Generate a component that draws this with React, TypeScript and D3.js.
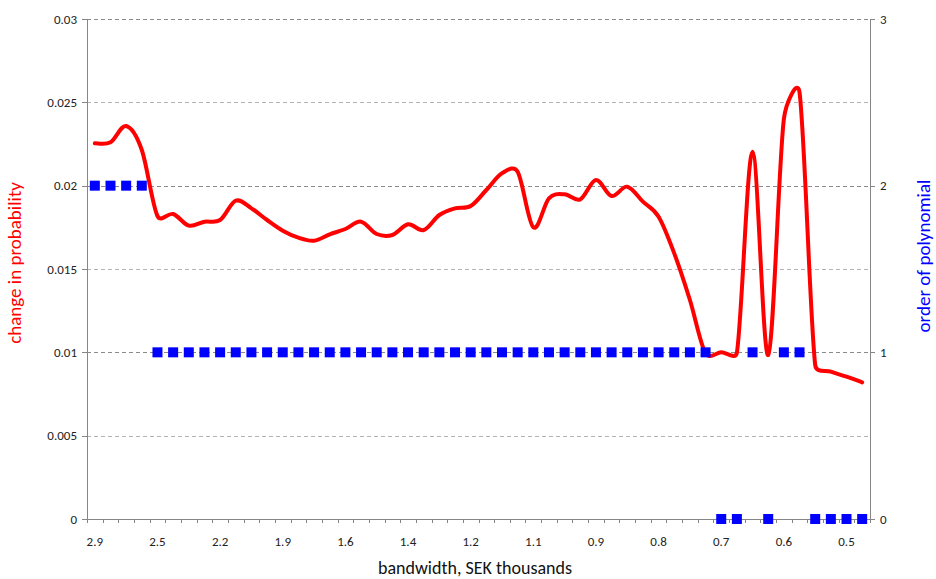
import React, { useEffect, useRef } from 'react';
import * as d3 from 'd3';

// bandwidth (SEK thousands) for each estimation, largest first
const bandwidths = [
  2.9, 2.8, 2.7, 2.6, 2.5, 2.42, 2.35, 2.27, 2.2, 2.12,
  2.05, 1.97, 1.9, 1.82, 1.75, 1.67, 1.6, 1.55, 1.5, 1.45,
  1.4, 1.35, 1.3, 1.25, 1.2, 1.17, 1.15, 1.12, 1.1, 1.05,
  1.0, 0.95, 0.9, 0.87, 0.85, 0.82, 0.8, 0.77, 0.75, 0.72,
  0.7, 0.67, 0.65, 0.62, 0.6, 0.57, 0.55, 0.52, 0.5, 0.47
];

// change in probability (left axis)
const probChange = [
  0.02254, 0.0226, 0.02358, 0.02214, 0.01818, 0.0183, 0.0176, 0.01784, 0.01794, 0.0191,
  0.01864, 0.01794, 0.0173, 0.01688, 0.0167, 0.01708, 0.0174, 0.01784, 0.0171, 0.01704,
  0.01768, 0.01734, 0.01824, 0.01864, 0.01878, 0.01974, 0.02074, 0.02084, 0.0175, 0.01924,
  0.01948, 0.01918, 0.02034, 0.01938, 0.01994, 0.01904, 0.01814, 0.01594, 0.01314, 0.00994,
  0.01, 0.00998, 0.02204, 0.00984, 0.02400, 0.02560, 0.00924, 0.00884, 0.00854, 0.0082
];

// order of polynomial (right axis)
const polyOrder = [
  2, 2, 2, 2, 1, 1, 1, 1, 1, 1,
  1, 1, 1, 1, 1, 1, 1, 1, 1, 1,
  1, 1, 1, 1, 1, 1, 1, 1, 1, 1,
  1, 1, 1, 1, 1, 1, 1, 1, 1, 1,
  0, 0, 1, 0, 1, 1, 0, 0, 0, 0
];

const leftTicks = [0, 0.005, 0.01, 0.015, 0.02, 0.025, 0.03];
const rightTicks = [0, 1, 2, 3];

const WIDTH = 936;
const HEIGHT = 579;
const FONT = 'Carlito, Calibri, Lato, sans-serif';

// spreadsheet-style smoothed line: bezier arms of 1/6 the neighbour chord,
// capped at half the segment length so big jumps don't overshoot
function smoothPath(pts: [number, number][]) {
  const p = d3.path();
  const n = pts.length;
  const dist = (a: [number, number], b: [number, number]) => Math.hypot(b[0] - a[0], b[1] - a[1]);
  p.moveTo(pts[0][0], pts[0][1]);
  for (let i = 0; i < n - 1; i++) {
    const p0 = pts[Math.max(0, i - 1)];
    const p1 = pts[i];
    const p2 = pts[i + 1];
    const p3 = pts[Math.min(n - 1, i + 2)];
    const seg = dist(p1, p2);
    const d02 = dist(p0, p2);
    const d13 = dist(p1, p3);
    const f1 = d02 > 0 ? Math.min(1 / 6, seg / (2 * d02)) : 0;
    const f2 = d13 > 0 ? Math.min(1 / 6, seg / (2 * d13)) : 0;
    p.bezierCurveTo(
      p1[0] + (p2[0] - p0[0]) * f1, p1[1] + (p2[1] - p0[1]) * f1,
      p2[0] - (p3[0] - p1[0]) * f2, p2[1] - (p3[1] - p1[1]) * f2,
      p2[0], p2[1]
    );
  }
  return p.toString();
}

export default function App() {
  const svgRef = useRef<SVGSVGElement>(null);

  useEffect(() => {
    if (!svgRef.current) return;
    const svg = d3.select(svgRef.current);
    svg.selectAll('*').remove();

    const left = 87, right = 870, top = 19, bottom = 519;
    const idx = bandwidths.map((_, i) => i);

    const x = d3.scaleBand<number>().domain(idx).range([left, right]);
    const cx = (i: number) => (x(i) as number) + x.bandwidth() / 2;
    const yL = d3.scaleLinear().domain([0, 0.03]).range([bottom, top]);
    const yR = d3.scaleLinear().domain([0, 3]).range([bottom, top]);

    // gridlines
    const grid = svg.append('g');
    grid.selectAll('line.gl')
      .data(leftTicks)
      .enter()
      .append('line')
      .attr('x1', left).attr('x2', right)
      .attr('y1', d => Math.round(yL(d)) + 0.5).attr('y2', d => Math.round(yL(d)) + 0.5)
      .attr('stroke', '#b3b3b3')
      .attr('stroke-width', 1)
      .attr('stroke-dasharray', '4,3');
    grid.selectAll('line.gr')
      .data(rightTicks.filter(d => d > 0))
      .enter()
      .append('line')
      .attr('x1', left).attr('x2', right)
      .attr('y1', d => Math.round(yR(d)) + 0.5).attr('y2', d => Math.round(yR(d)) + 0.5)
      .attr('stroke', '#8a8a8a')
      .attr('stroke-width', 1)
      .attr('stroke-dasharray', '4,3');

    const axisColor = '#868686';

    // left axis
    svg.append('line')
      .attr('x1', left + 0.5).attr('x2', left + 0.5)
      .attr('y1', top).attr('y2', bottom)
      .attr('stroke', axisColor);
    const la = svg.append('g');
    la.selectAll('line')
      .data(leftTicks)
      .enter()
      .append('line')
      .attr('x1', left - 5).attr('x2', left)
      .attr('y1', d => Math.round(yL(d)) + 0.5).attr('y2', d => Math.round(yL(d)) + 0.5)
      .attr('stroke', axisColor);
    la.selectAll('text')
      .data(leftTicks)
      .enter()
      .append('text')
      .attr('x', left - 10)
      .attr('y', d => yL(d) + 4.5)
      .attr('text-anchor', 'end')
      .attr('font-family', FONT)
      .attr('font-size', 13)
      .attr('fill', '#222')
      .text(d => String(d));

    // right axis
    svg.append('line')
      .attr('x1', right + 0.5).attr('x2', right + 0.5)
      .attr('y1', top).attr('y2', bottom)
      .attr('stroke', axisColor);
    const ra = svg.append('g');
    ra.selectAll('line')
      .data(rightTicks)
      .enter()
      .append('line')
      .attr('x1', right).attr('x2', right + 5)
      .attr('y1', d => Math.round(yR(d)) + 0.5).attr('y2', d => Math.round(yR(d)) + 0.5)
      .attr('stroke', axisColor);
    ra.selectAll('text')
      .data(rightTicks)
      .enter()
      .append('text')
      .attr('x', right + 10)
      .attr('y', d => yR(d) + 4.5)
      .attr('text-anchor', 'start')
      .attr('font-family', FONT)
      .attr('font-size', 13)
      .attr('fill', '#222')
      .text(d => String(d));

    // x axis
    svg.append('line')
      .attr('x1', left).attr('x2', right)
      .attr('y1', bottom + 0.5).attr('y2', bottom + 0.5)
      .attr('stroke', axisColor);
    const xa = svg.append('g');
    xa.selectAll('line')
      .data(idx.concat([idx.length]))
      .enter()
      .append('line')
      .attr('x1', i => Math.round(left + i * x.bandwidth()) + 0.5)
      .attr('x2', i => Math.round(left + i * x.bandwidth()) + 0.5)
      .attr('y1', bottom).attr('y2', bottom + 4)
      .attr('stroke', axisColor);
    const fmt = d3.format('.1f');
    xa.selectAll('text')
      .data(idx.filter(i => i % 4 === 0))
      .enter()
      .append('text')
      .attr('x', i => cx(i))
      .attr('y', bottom + 27)
      .attr('text-anchor', 'middle')
      .attr('font-family', FONT)
      .attr('font-size', 13)
      .attr('fill', '#222')
      .text(i => fmt(bandwidths[i]));

    // red smoothed line
    const pts = probChange.map((d, i) => [cx(i), yL(d)] as [number, number]);
    svg.append('path')
      .attr('d', smoothPath(pts))
      .attr('fill', 'none')
      .attr('stroke', '#ff0000')
      .attr('stroke-width', 4)
      .attr('stroke-linejoin', 'round')
      .attr('stroke-linecap', 'round');

    // blue squares
    const sz = 10;
    svg.append('g')
      .selectAll('rect')
      .data(polyOrder)
      .enter()
      .append('rect')
      .attr('x', (_, i) => cx(i) - sz / 2)
      .attr('y', d => yR(d) - sz / 2)
      .attr('width', sz)
      .attr('height', sz)
      .attr('fill', '#0000ff');

    // titles
    svg.append('text')
      .attr('x', 475)
      .attr('y', 574)
      .attr('text-anchor', 'middle')
      .attr('font-family', FONT)
      .attr('font-size', 18)
      .attr('fill', '#111')
      .text('bandwidth, SEK thousands');
    svg.append('text')
      .attr('transform', 'translate(21,263) rotate(-90)')
      .attr('text-anchor', 'middle')
      .attr('font-family', FONT)
      .attr('font-size', 19)
      .attr('fill', '#ff0000')
      .text('change in probability');
    svg.append('text')
      .attr('transform', 'translate(930,256) rotate(-90)')
      .attr('text-anchor', 'middle')
      .attr('font-family', FONT)
      .attr('font-size', 19)
      .attr('fill', '#0000ff')
      .text('order of polynomial');
  }, []);

  return (
    <svg
      ref={svgRef}
      width={WIDTH}
      height={HEIGHT}
      style={{ position: 'absolute', left: 0, top: 0, background: '#fff' }}
    />
  );
}
